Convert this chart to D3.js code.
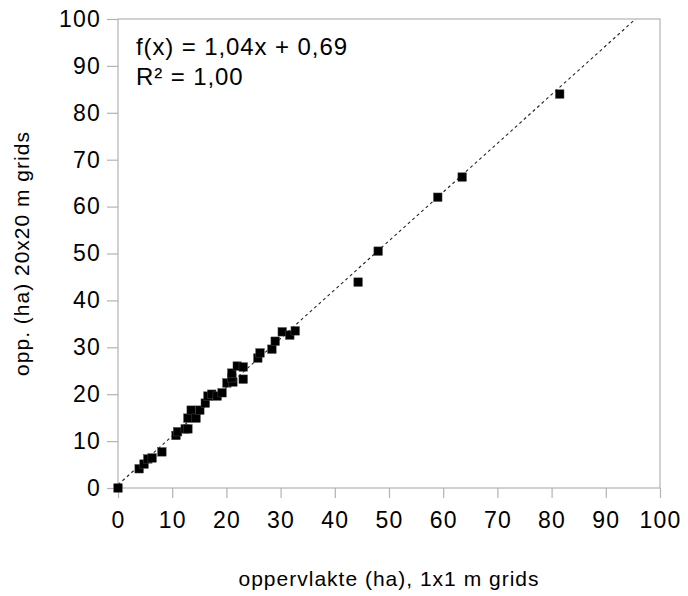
<!DOCTYPE html>
<html>
<head>
<meta charset="utf-8">
<script src="https://cdn.jsdelivr.net/npm/d3@7"></script>
<style>
  body { margin: 0; background: #fff; }
  text { font-family: "Liberation Sans", Arial, sans-serif; fill: #000; }
  .tick-label { font-size: 23px; letter-spacing: 1.2px; }
  .axis-title { font-size: 21px; letter-spacing: 1px; }
  .eq { font-size: 24px; letter-spacing: 0.9px; }
</style>
</head>
<body>
<div class="container"></div>
<script>
const margin = {top: 19, right: 28, bottom: 108, left: 118};
const width = 688 - margin.left - margin.right;
const height = 596 - margin.top - margin.bottom;

// oppervlakte 1x1 m grids (ha)
const xValues = [0, 3.9, 4.8, 5.5, 6.3, 8.1, 10.7, 11.0, 12.4, 12.9, 12.9, 13.5, 14.4, 15.1,
  16.1, 16.6, 17.3, 18.3, 19.2, 20.1, 21.2, 21.0, 21.0, 22.0, 23.1, 23.1, 25.8, 26.2,
  28.4, 29.0, 30.3, 31.7, 32.7, 44.3, 48.0, 59.0, 63.5, 81.5];
// opp. 20x20 m grids (ha)
const yValues = [0, 4.1, 5.1, 6.2, 6.4, 7.7, 11.2, 12.0, 12.6, 12.6, 14.9, 16.6, 14.9, 16.6,
  18.1, 19.6, 20.0, 19.6, 20.3, 22.4, 22.6, 23.5, 24.5, 26.0, 25.8, 23.2, 27.7, 28.8,
  29.6, 31.3, 33.3, 32.6, 33.5, 43.9, 50.5, 62.0, 66.3, 84.0];

const ticks = [0, 10, 20, 30, 40, 50, 60, 70, 80, 90, 100];
const trend = {slope: 1.04, intercept: 0.69};
const equationLines = ["f(x) = 1,04x + 0,69", "R\u00b2 = 1,00"];

const svg = d3.select(".container")
  .append("svg")
    .attr("width", width + margin.left + margin.right)
    .attr("height", height + margin.top + margin.bottom)
  .append("g")
    .attr("transform", "translate(" + margin.left + "," + margin.top + ")");

const x = d3.scaleLinear().domain([0, 100]).range([0, width]);
const y = d3.scaleLinear().domain([0, 100]).range([height, 0]);

const gridColor = "#b3b3b3";

// frame
svg.append("rect")
  .attr("x", 0).attr("y", 0)
  .attr("width", width).attr("height", height)
  .attr("fill", "none")
  .attr("stroke", gridColor)
  .attr("stroke-width", 1.2);

// x axis
const xAxis = svg.append("g")
  .attr("transform", "translate(0," + height + ")")
  .call(d3.axisBottom(x).tickValues(ticks).tickSize(10).tickPadding(14));
xAxis.select(".domain").remove();
xAxis.selectAll("line").attr("stroke", gridColor).attr("stroke-width", 1.2);
xAxis.selectAll("text").attr("class", "tick-label").attr("font-size", null).attr("font-family", null);

// y axis
const yAxis = svg.append("g")
  .call(d3.axisLeft(y).tickValues(ticks).tickSize(11).tickPadding(6));
yAxis.select(".domain").remove();
yAxis.selectAll("line").attr("stroke", gridColor).attr("stroke-width", 1.2);
yAxis.selectAll("text").attr("class", "tick-label").attr("font-size", null).attr("font-family", null);

// trend line, clipped to plot
svg.append("clipPath").attr("id", "plot-clip")
  .append("rect").attr("width", width).attr("height", height);

const xEnd = (100 - trend.intercept) / trend.slope;
svg.append("line")
  .attr("clip-path", "url(#plot-clip)")
  .attr("x1", x(0)).attr("y1", y(trend.intercept))
  .attr("x2", x(xEnd)).attr("y2", y(100))
  .attr("stroke", "#222")
  .attr("stroke-width", 1.1)
  .attr("stroke-dasharray", "3,3");

// points
const pts = xValues.map((v, i) => ({x: v, y: yValues[i]}));
const size = 8.5;
svg.selectAll(".pt")
  .data(pts)
  .enter()
  .append("rect")
    .classed("pt", true)
    .attr("x", d => x(d.x) - size / 2)
    .attr("y", d => y(d.y) - size / 2)
    .attr("width", size)
    .attr("height", size)
    .attr("fill", "#000")
    .attr("stroke", "#444")
    .attr("stroke-width", 0.5);

// regression text
svg.selectAll(".eq")
  .data(equationLines)
  .enter()
  .append("text")
    .classed("eq", true)
    .attr("x", 18)
    .attr("y", (d, i) => 36 + i * 30)
    .text(d => d);

// axis titles
svg.append("text")
  .classed("axis-title", true)
  .attr("x", width / 2)
  .attr("y", height + 98)
  .attr("text-anchor", "middle")
  .text("oppervlakte (ha), 1x1 m grids");

svg.append("text")
  .classed("axis-title", true)
  .attr("transform", "translate(" + (-89) + "," + (height / 2) + ") rotate(-90)")
  .attr("text-anchor", "middle")
  .text("opp. (ha) 20x20 m grids");
</script>
</body>
</html>
